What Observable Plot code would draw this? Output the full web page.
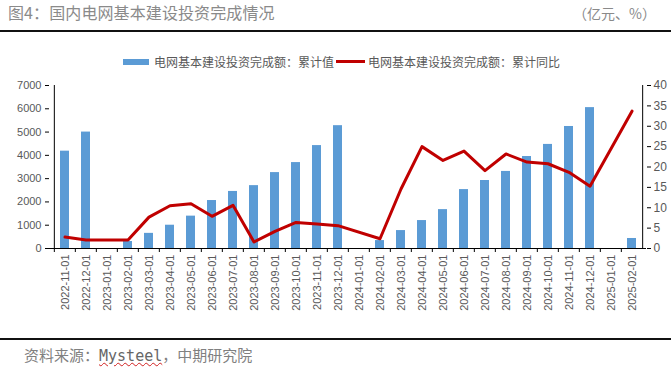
<!DOCTYPE html>
<html>
<head>
<meta charset="utf-8">
<script src="https://cdn.jsdelivr.net/npm/d3@7"></script>
<script src="https://cdn.jsdelivr.net/npm/@observablehq/plot@0.6"></script>
<style>
  html, body { margin: 0; padding: 0; background: #fff; }
  #wrap { position: relative; width: 671px; height: 373px; overflow: hidden; font-family: "Noto Sans CJK SC", "Noto Sans", sans-serif; }
  .abs { position: absolute; white-space: nowrap; }
  #title { left: 8px; top: 2px; font-size: 16px; line-height: 20px; color: #8a8a8a; letter-spacing: 0.1px; }
  #unit { right: 15px; top: 3px; font-size: 14px; line-height: 20px; color: #8a8a8a; }
  #rule1 { left: 0; top: 30px; width: 671px; height: 2px; background: #111; }
  #rule2 { left: 0; top: 338px; width: 671px; height: 2px; background: #111; }
  #caption { left: 24px; top: 344px; font-size: 15px; line-height: 22px; color: #808080; }
  #caption .m { text-decoration: underline wavy #d02020; text-decoration-thickness: 1px; font-family: "DejaVu Sans Mono", monospace; color: #666; }
  .legtext { font-size: 12px; line-height: 16px; color: #595959; top: 54px; }
  #plot { left: 0; top: 72px; }
</style>
</head>
<body>
<div id="wrap">
  <div id="title" class="abs">图4：国内电网基本建设投资完成情况</div>
  <div id="unit" class="abs">（亿元、%）</div>
  <div id="rule1" class="abs"></div>
  <div class="abs" style="left:123px; top:59px; width:26px; height:6px; background:#5B9BD5;"></div>
  <div class="abs legtext" style="left:154px;">电网基本建设投资完成额：累计值</div>
  <div class="abs" style="left:336px; top:60px; width:29px; height:3px; background:#C00000;"></div>
  <div class="abs legtext" style="left:368px;">电网基本建设投资完成额：累计同比</div>
  <div id="plot" class="abs"></div>
  <div id="rule2" class="abs"></div>
  <div id="caption" class="abs">资料来源：<span class="m">Mysteel</span>，中期研究院</div>
</div>
<script>
const months = [
  "2022-11-01","2022-12-01","2023-01-01","2023-02-01","2023-03-01","2023-04-01","2023-05-01",
  "2023-06-01","2023-07-01","2023-08-01","2023-09-01","2023-10-01","2023-11-01","2023-12-01",
  "2024-01-01","2024-02-01","2024-03-01","2024-04-01","2024-05-01","2024-06-01","2024-07-01",
  "2024-08-01","2024-09-01","2024-10-01","2024-11-01","2024-12-01","2025-01-01","2025-02-01"
];
// 电网基本建设投资完成额：累计值（亿元）
const investment = [4180, 5000, null, 300, 650, 1000, 1390, 2060, 2450, 2700, 3260, 3690, 4420, 5275,
  null, 340, 770, 1200, 1670, 2530, 2920, 3310, 3950, 4470, 5240, 6050, null, 430];
// 电网基本建设投资完成额：累计同比（%）
const yoy = [2.8, 2.1, null, 2.1, 7.7, 10.5, 11.0, 7.9, 10.6, 1.6, 4.2, 6.4, 6.0, 5.6,
  null, 2.4, 14.6, 25.0, 21.6, 23.9, 19.1, 23.2, 21.2, 20.8, 18.7, 15.3, null, 33.7];
const leftTicks = [0, 1000, 2000, 3000, 4000, 5000, 6000, 7000];
const rightTicks = [0, 5, 10, 15, 20, 25, 30, 35, 40];

const leftMax = 7000, rightMax = 40, k = leftMax / rightMax;
const bars = months.map((m, i) => ({month: m, value: investment[i]})).filter(d => d.value != null);
const line = months.map((m, i) => ({month: m, value: yoy[i]})).filter(d => d.value != null);

const width = 671, marginLeft = 49, marginRight = 25;
const step = (width - marginLeft - marginRight) / months.length;

const chart = Plot.plot({
  width, height: 266,
  marginLeft, marginRight, marginTop: 13, marginBottom: 90,
  style: {fontFamily: "Liberation Sans, Arial, sans-serif", background: "transparent"},
  x: {domain: months, paddingInner: 0.58, paddingOuter: 0.29, label: null},
  y: {domain: [0, leftMax], label: null},
  marks: [
    Plot.barY(bars, {x: "month", y: "value", fill: "#5B9BD5"}),
    Plot.ruleY([0], {stroke: "#000"}),
    Plot.ruleX([months[0]], {dx: -step / 2, y1: 0, y2: leftMax, stroke: "#000"}),
    Plot.ruleX([months[months.length - 1]], {dx: step / 2, y1: 0, y2: leftMax, stroke: "#000"}),
    Plot.line(line, {x: "month", y: d => d.value * k, stroke: "#C00000", strokeWidth: 3, strokeLinejoin: "round", strokeLinecap: "round"}),
    Plot.axisX({tickSize: 4, dx: -step / 2, tickFormat: () => "", stroke: "#000", label: null}),
    Plot.axisX({tickSize: 0, tickRotate: -90, tickPadding: 6, fill: "#595959", fontSize: 11, label: null}),
    Plot.axisY({ticks: leftTicks, tickFormat: v => String(v), tickSize: 4, tickPadding: 4, stroke: "#000", fill: "#595959", fontSize: 11, label: null}),
    Plot.axisY({anchor: "right", ticks: rightTicks.map(v => v * k), tickFormat: v => String(Math.round(v / k)), tickSize: 4, tickPadding: 3, stroke: "#000", fill: "#595959", fontSize: 12, label: null})
  ]
});
document.getElementById("plot").appendChild(chart);
</script>
</body>
</html>
